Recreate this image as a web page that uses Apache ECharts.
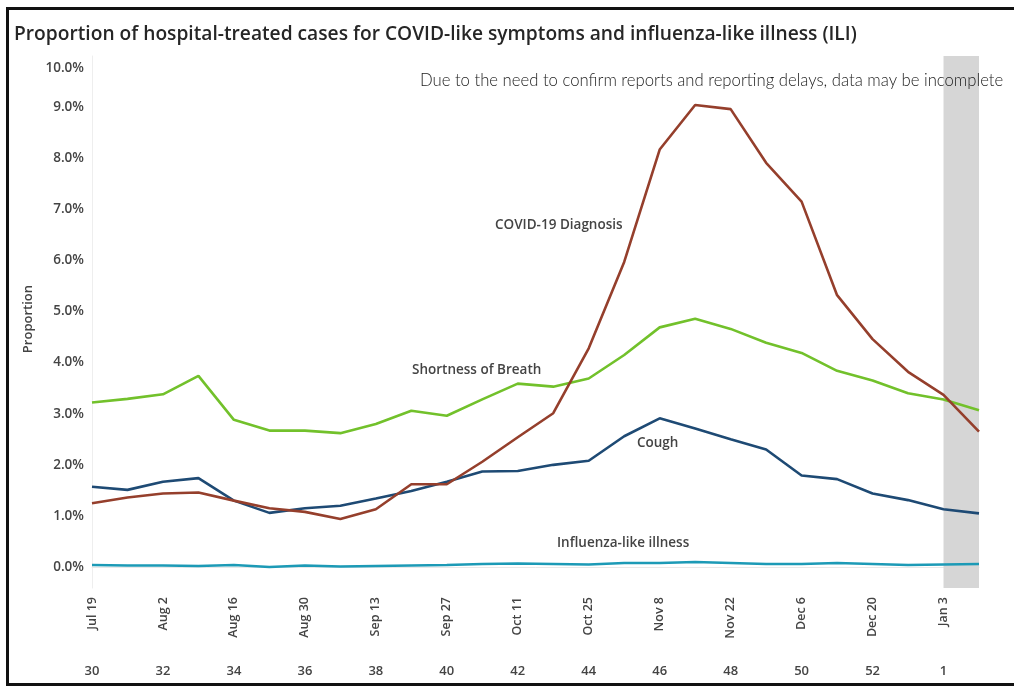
<!DOCTYPE html>
<html>
<head>
<meta charset="utf-8">
<script src="https://cdn.jsdelivr.net/npm/echarts@6/dist/echarts.min.js"></script>
<style>
  html, body { margin: 0; padding: 0; background: #fff; }
  #chart { position: absolute; left: 0; top: 0; width: 1014px; height: 686px; }
  #frame { position: absolute; left: 6px; top: 7px; width: 1020px; height: 673px;
           border: 3px solid #111; pointer-events: none; }
</style>
</head>
<body>
<div id="chart"></div>
<div id="frame"></div>
<script>
// Week-ending dates (weekly, Jul 19 2020 – Jan 10 2021)
const weeks = ['Jul 19','Jul 26','Aug 2','Aug 9','Aug 16','Aug 23','Aug 30','Sep 6','Sep 13','Sep 20',
  'Sep 27','Oct 4','Oct 11','Oct 18','Oct 25','Nov 1','Nov 8','Nov 15','Nov 22','Nov 29',
  'Dec 6','Dec 13','Dec 20','Dec 27','Jan 3','Jan 10'];
// Epidemiological week numbers for the same weeks
const weekNumbers = ['30','31','32','33','34','35','36','37','38','39','40','41','42','43','44',
  '45','46','47','48','49','50','51','52','53','1','2'];

// Proportion of hospital-treated cases (%)
const covidDiagnosis = [1.25,1.36,1.44,1.46,1.30,1.15,1.08,0.94,1.13,1.62,1.62,2.06,2.54,3.01,4.28,
  5.97,8.17,9.04,8.96,7.91,7.15,5.32,4.46,3.82,3.37,2.65];
const shortnessOfBreath = [3.22,3.29,3.38,3.74,2.88,2.67,2.67,2.62,2.80,3.06,2.96,3.28,3.59,3.53,3.69,
  4.15,4.69,4.86,4.66,4.39,4.19,3.84,3.65,3.40,3.28,3.07];
const cough = [1.57,1.51,1.67,1.74,1.30,1.06,1.15,1.20,1.34,1.49,1.67,1.87,1.88,2.00,2.08,
  2.56,2.91,2.71,2.50,2.30,1.79,1.72,1.44,1.31,1.13,1.05];
const influenzaLike = [0.04,0.03,0.03,0.02,0.04,0.00,0.03,0.01,0.02,0.03,0.04,0.06,0.07,0.06,0.05,
  0.08,0.08,0.10,0.08,0.06,0.06,0.08,0.06,0.04,0.05,0.06];
const yTicks = [0,1,2,3,4,5,6,7,8,9,10];
// Weeks whose data may still be incomplete
const incompleteRange = ['Jan 3', 'Jan 10'];

const labelFont = '"Open Sans", "Noto Sans", sans-serif';
const seriesLabelFont = '600 13.5px "Open Sans", sans-serif';
const chart = echarts.init(document.getElementById('chart'));

function line(name, data, color, extra) {
  return Object.assign({
    name, type: 'line', data, xAxisIndex: 0, yAxisIndex: 0,
    symbol: 'none', smooth: false,
    lineStyle: { color, width: 2.6 }, itemStyle: { color },
    z: 3
  }, extra || {});
}

const tickTextStyle = { color: '#444', fontFamily: labelFont, fontSize: 13.5, fontWeight: 600 };

chart.setOption({
  animation: false,
  backgroundColor: '#fff',
  grid: { left: 92, right: 35, top: 56, bottom: 98 },
  xAxis: [
    {
      type: 'category', data: weeks, boundaryGap: false,
      axisLine: { show: true, lineStyle: { color: '#e8e8e8', width: 1 } },
      axisTick: { show: false },
      axisLabel: { interval: 1, rotate: 90, margin: 9, color: '#444',
        fontFamily: labelFont, fontSize: 12.5, fontWeight: 600 },
      splitLine: { show: false }
    },
    {
      type: 'category', data: weekNumbers, boundaryGap: false, position: 'bottom', offset: 69,
      axisLine: { show: false }, axisTick: { show: false },
      axisLabel: { interval: 1, margin: 8, color: '#444',
        fontFamily: labelFont, fontSize: 13, fontWeight: 600 },
      splitLine: { show: false }
    }
  ],
  yAxis: {
    type: 'value', min: -0.41, max: 10,
    axisLine: { show: true, lineStyle: { color: '#eeeeee', width: 1 } },
    axisTick: { show: false },
    splitLine: { show: false },
    axisLabel: Object.assign({
      customValues: yTicks, margin: 8,
      // the top label sits a little lower than its tick
      formatter: v => v === 10 ? '{top|' + v.toFixed(1) + '%}' : v.toFixed(1) + '%',
      rich: { top: Object.assign({ padding: [24, 0, 0, 0] }, tickTextStyle) }
    }, tickTextStyle)
  },
  series: [
    line('Influenza-like illness', influenzaLike, '#1c9ab6', {
      markArea: {
        silent: true,
        itemStyle: { color: '#d6d6d6' },
        data: [[{ xAxis: incompleteRange[0] }, { xAxis: incompleteRange[1] }]]
      }
    }),
    line('Cough', cough, '#1e4a74'),
    line('Shortness of Breath', shortnessOfBreath, '#72c12b'),
    line('COVID-19 Diagnosis', covidDiagnosis, '#953f2c')
  ],
  graphic: [
    { type: 'text', left: 14, top: 25, z: 10,
      style: { text: 'Proportion of hospital-treated cases for COVID-like symptoms and influenza-like illness (ILI)',
        fill: '#262626', font: '600 19.2px "Open Sans", sans-serif' } },
    { type: 'text', left: 420, top: 72, z: 10,
      style: { text: 'Due to the need to confirm reports and reporting delays, data may be incomplete',
        fill: '#222', font: '300 16.7px Lato, sans-serif' } },
    { type: 'text', left: 22, top: 285, rotation: Math.PI / 2, z: 10,
      style: { text: 'Proportion', fill: '#444', font: '600 13px "Open Sans", sans-serif' } },
    { type: 'text', left: 495, top: 218, z: 10,
      style: { text: 'COVID-19 Diagnosis', fill: '#444', font: seriesLabelFont } },
    { type: 'text', left: 412, top: 363, z: 10,
      style: { text: 'Shortness of Breath', fill: '#444', font: seriesLabelFont } },
    { type: 'text', left: 637, top: 436, z: 10,
      style: { text: 'Cough', fill: '#444', font: seriesLabelFont } },
    { type: 'text', left: 557, top: 536, z: 10,
      style: { text: 'Influenza-like illness', fill: '#444', font: seriesLabelFont } }
  ]
});
</script>
</body>
</html>
